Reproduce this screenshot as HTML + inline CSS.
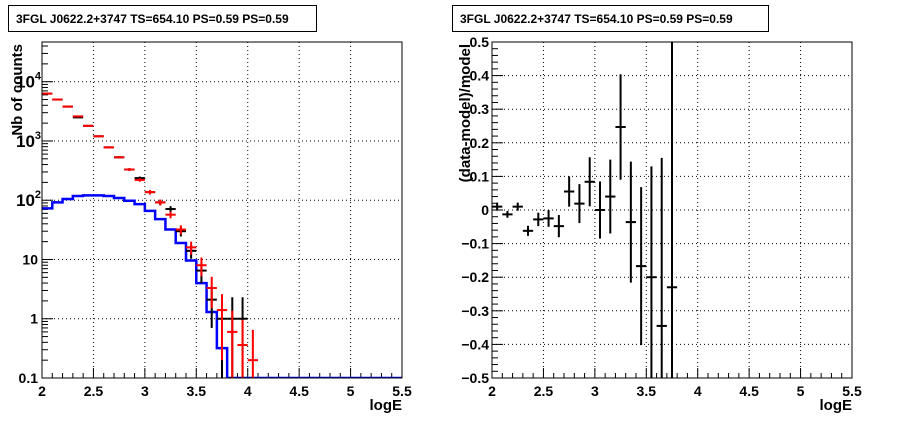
<!DOCTYPE html>
<html><head><meta charset="utf-8"><style>
html,body{margin:0;padding:0;background:#fff;}
svg{display:block;font-family:"Liberation Sans",Arial,sans-serif;}
</style></head><body>
<svg id="c" width="898" height="421" viewBox="0 0 898 421">
<rect x="0" y="0" width="898" height="421" fill="#fff"/>
<g>
<rect x="8.5" y="5.5" width="308" height="26" fill="#fff" stroke="#000"/>
<text x="16" y="23" font-size="12" font-weight="bold">3FGL J0622.2+3747 TS=654.10 PS=0.59 PS=0.59</text>
</g>
<g>
<rect x="452.5" y="5.5" width="316" height="26" fill="#fff" stroke="#000"/>
<text x="460" y="23" font-size="12" font-weight="bold">3FGL J0622.2+3747 TS=654.10 PS=0.59 PS=0.59</text>
</g>
<g id="L"></g>
<g id="R"></g>
</svg>
<script>
// shared bins
const binCenters=[2.05,2.15,2.25,2.35,2.45,2.55,2.65,2.75,2.85,2.95,3.05,3.15,3.25,3.35,3.45,3.55,3.65,3.75,3.85,3.95,4.05];
// data counts (black)
const dataCounts=[6300,5000,3800,2500,1800,1200,780,530,330,236,137,92,71,30,14,6.5,2.1,1,1,1,0];
const dataErrLo=[80,70,62,50,42,35,28,23,18,15,12,10,8.5,5.5,3.7,2.5,1.4,0.95,0.95,0.95,0];
const dataErrHi=[80,70,62,50,42,35,28,23,18,15,12,10,8.5,5.5,3.7,2.5,1.4,1.3,1.3,1.3,0];
// model sum counts (red)
const modelCounts=[6300,5000,3800,2600,1800,1200,780,530,330,220,137,92,57,32,16,8,3.3,1.4,0.6,0.36,0.2];
const modelErrLo=[80,70,62,51,42,35,28,23,18,15,12,10,7.5,5.7,4,2.8,1.8,1.2,0.6,0.36,0.2];
const modelErrHi=[80,70,62,51,42,35,28,23,18,15,12,10,7.5,5.7,4,2.8,1.8,1.2,0.77,0.6,0.45];
// source model (blue histogram), bins 2.0..5.5
const srcCounts=[73,92,105,118,121,121,118,109,98,86,66,48,32,19,9.6,4.0,1.3,0.32,0.1,0.1,0.1,0.1,0.1,0.1,0.1,0.1,0.1,0.1,0.1,0.1,0.1,0.1,0.1,0.1,0.1];
// residuals
const resCenters=[2.05,2.15,2.25,2.35,2.45,2.55,2.65,2.75,2.85,2.95,3.05,3.15,3.25,3.35,3.45,3.55,3.65,3.75];
const resValues=[0.01,-0.013,0.01,-0.062,-0.028,-0.025,-0.048,0.055,0.019,0.084,0.0,0.04,0.247,-0.036,-0.167,-0.2,-0.345,-0.23];
const resErrors=[0.012,0.01,0.012,0.015,0.02,0.025,0.033,0.045,0.058,0.073,0.085,0.11,0.157,0.18,0.235,0.33,0.5,0.9];
const xTickLabels=["2","2.5","3","3.5","4","4.5","5","5.5"];
const logTickLabels=["0.1","1","10"];
const resTickLabels=["−0.5","−0.4","−0.3","−0.2","−0.1","0","0.1","0.2","0.3","0.4","0.5"];

const NS="http://www.w3.org/2000/svg";
function mk(p,tag,attrs){const e=document.createElementNS(NS,tag);for(const k in attrs)e.setAttribute(k,attrs[k]);p.appendChild(e);return e;}
const L=document.getElementById('L'),R=document.getElementById('R');
// left axes
const lx0=42,lx1=402,ly0=42,ly1=378,yMinLog=-1,yMaxLog=4.67;
const lX=v=>lx0+(v-2)/3.5*(lx1-lx0);
const lY=v=>{let lg=Math.log10(Math.max(v,1e-3));lg=Math.max(yMinLog,Math.min(yMaxLog,lg));return ly1-(lg-yMinLog)/(yMaxLog-yMinLog)*(ly1-ly0);};
// right axes
const rx0=492,rx1=852,ry0=42,ry1=378;
const rX=v=>rx0+(v-2)/3.5*(rx1-rx0);
const rY=v=>{v=Math.max(-0.5,Math.min(0.5,v));return ry1-(v+0.5)*(ry1-ry0);};

function grid(g,X,Y0,Y1,xs,ys,Yf,x0,x1){
 xs.forEach(v=>{const l=mk(g,'line',{x1:X(v),x2:X(v),y1:Y0,y2:Y1,stroke:'#000','stroke-dasharray':'1,3','stroke-width':1});
 });
 ys.forEach(v=>{const l=mk(g,'line',{x1:x0,x2:x1,y1:Yf(v),y2:Yf(v),stroke:'#000','stroke-dasharray':'1,3','stroke-width':1});
 });
}
grid(L,lX,ly0,ly1,[2.5,3,3.5,4,4.5,5],[1,10,100,1000,10000],lY,lx0,lx1);
grid(R,rX,ry0,ry1,[2.5,3,3.5,4,4.5,5],[-0.4,-0.3,-0.2,-0.1,0,0.1,0.2,0.3,0.4],rY,rx0,rx1);

function xAxis(g,X,x0,x1,y1){
 for(let i=0;i<=35;i++){const v=2+i*0.1;const major=i%5===0;
  const t=mk(g,'line',{x1:X(v),x2:X(v),y1:y1,y2:y1-(major?10:5),stroke:'#000'});
  }
 xTickLabels.forEach((s,i)=>{const t=mk(g,'text',{x:X(2+i*0.5),y:y1+18,'font-size':14,'font-weight':'bold','text-anchor':'middle'});t.textContent=s;
  });
 const t=mk(g,'text',{x:x1,y:y1+32,'font-size':15,'font-weight':'bold','text-anchor':'end'});t.textContent='logE';
 
}
xAxis(L,lX,lx0,lx1,ly1);xAxis(R,rX,rx0,rx1,ry1);

// left y ticks
for(let d=-1;d<=4;d++){for(let m=1;m<=9;m++){const v=m*Math.pow(10,d);const lg=Math.log10(v);if(lg>yMaxLog)continue;
 const t=mk(L,'line',{x1:lx0,x2:lx0+(m===1?11:6),y1:lY(v),y2:lY(v),stroke:'#000'});
 }}
logTickLabels.forEach((s,i)=>{const t=mk(L,'text',{x:38,y:lY(Math.pow(10,i-1))+5,'font-size':14,'font-weight':'bold','text-anchor':'end'});t.textContent=s;
 });
[2,3,4].forEach(p=>{const t=mk(L,'text',{x:16,y:lY(Math.pow(10,p))+6,'font-size':17,'font-weight':'bold'});t.textContent='10';
 const s=mk(t,'tspan',{dy:-8,'font-size':11});s.textContent=String(p);
 });
{const t=mk(L,'text',{x:0,y:0,'font-size':15,'font-weight':'bold','text-anchor':'end',transform:'translate(22,44) rotate(-90)'});t.textContent='Nb of counts';
 }

// right y ticks
for(let i=0;i<=50;i++){const v=-0.5+i*0.02;const major=i%5===0;
 const t=mk(R,'line',{x1:rx0,x2:rx0+(major?11:6),y1:rY(v),y2:rY(v),stroke:'#000'});
 }
resTickLabels.forEach((s,i)=>{const t=mk(R,'text',{x:489,y:rY(-0.5+i*0.1)+5,'font-size':14,'font-weight':'bold','text-anchor':'end'});t.textContent=s;
 });
{const t=mk(R,'text',{x:0,y:0,'font-size':15,'font-weight':'bold','text-anchor':'end',transform:'translate(470,44) rotate(-90)'});t.textContent='(data-model)/model';
 }

// clip
const defs=mk(document.getElementById('c'),'defs',{});
const cpL=mk(defs,'clipPath',{id:'cl'});mk(cpL,'rect',{x:lx0,y:ly0,width:lx1-lx0,height:ly1-ly0});
const cpR=mk(defs,'clipPath',{id:'cr'});mk(cpR,'rect',{x:rx0,y:ry0,width:rx1-rx0,height:ry1-ry0});
const LP=mk(L,'g',{'clip-path':'url(#cl)'});const RP=mk(R,'g',{'clip-path':'url(#cr)'});

// blue histogram
let d='';srcCounts.forEach((v,i)=>{const a=2+i*0.1,b=a+0.1;const y=lY(v);d+=(i===0?'M':'L')+lX(a)+','+y+'L'+lX(b)+','+y;});
const bl=mk(LP,'path',{d:d,fill:'none',stroke:'#0000ff','stroke-width':2.5});


function errPts(g,X,Y,cs,vals,lo,hi,col,name,isLog){
 cs.forEach((c,i)=>{const v=vals[i];if(isLog&&v<=0)return;
  const e=mk(g,'g',{stroke:col,'stroke-width':2});
  
  mk(e,'line',{x1:X(c-0.05),x2:X(c+0.05),y1:Y(v),y2:Y(v)});
  const lov=v-lo[i];const y2=isLog&&lov<=0?ly1+2:Y(lov);
  mk(e,'line',{x1:X(c),x2:X(c),y1:Y(v+hi[i]),y2:y2});});
}
errPts(LP,lX,lY,binCenters,dataCounts,dataErrLo,dataErrHi,'#000','data-point',true);
errPts(LP,lX,lY,binCenters,modelCounts,modelErrLo,modelErrHi,'#ff0000','model-point',true);
errPts(RP,rX,rY,resCenters,resValues,resErrors,resErrors,'#000','residual-point',false);

// frames
mk(L,'rect',{x:lx0,y:ly0,width:lx1-lx0,height:ly1-ly0,fill:'none',stroke:'#000'});
mk(R,'rect',{x:rx0,y:ry0,width:rx1-rx0,height:ry1-ry0,fill:'none',stroke:'#000'});
</script>
</body></html>
